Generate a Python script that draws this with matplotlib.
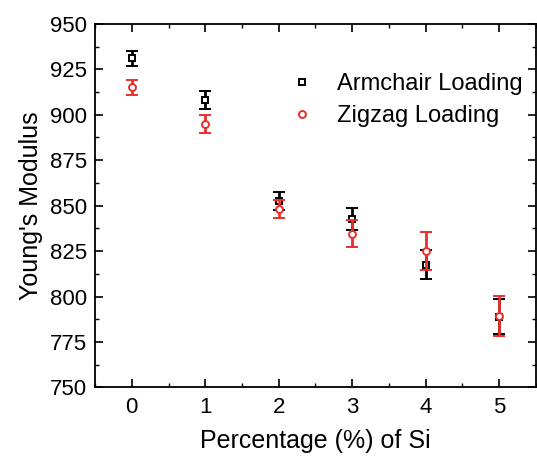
import matplotlib
matplotlib.use("Agg")
import matplotlib.pyplot as plt
from matplotlib.ticker import MultipleLocator
from matplotlib.lines import Line2D

plt.rcParams['font.family'] = ['Liberation Sans', 'DejaVu Sans']

si_pct = [0, 1, 2, 3, 4, 5]
armchair = [931, 908, 852.5, 842.5, 817.5, 789]
armchair_err = [4, 5, 5, 6, 8, 9.5]
zigzag = [915, 895, 848, 834.5, 825, 789.5]
zigzag_err = [4, 5, 5, 7.5, 10.5, 11]

RED = '#e8312f'

fig = plt.figure(figsize=(5.37, 4.59), dpi=100)
ax = fig.add_axes([0.177, 0.156, 0.821, 0.792])

ax.errorbar(si_pct, armchair, yerr=armchair_err, fmt='s', color='black',
            mfc='white', mec='black', ms=5, mew=1.4, elinewidth=2,
            capsize=4, capthick=2, zorder=3)
ax.errorbar(si_pct, zigzag, yerr=zigzag_err, fmt='o', color=RED,
            mfc='white', mec=RED, ms=5, mew=1.4, elinewidth=2,
            capsize=4, capthick=2, zorder=4)

ax.set_xlim(-0.5, 5.5)
ax.set_ylim(750, 950)
ax.xaxis.set_major_locator(MultipleLocator(1))
ax.xaxis.set_minor_locator(MultipleLocator(0.5))
ax.yaxis.set_major_locator(MultipleLocator(25))
ax.yaxis.set_minor_locator(MultipleLocator(12.5))
ax.tick_params(which='both', direction='in', top=True, right=True,
               labeltop=False, labelright=False)
ax.tick_params(which='major', length=6, width=1.2, labelsize=16)
ax.tick_params(axis='y', which='major', pad=6)
ax.tick_params(axis='x', which='major', pad=7)
ax.tick_params(which='minor', length=3, width=1.0)
for s in ax.spines.values():
    s.set_linewidth(1.3)

ax.set_xlabel('Percentage (%) of Si', fontsize=18, labelpad=8)
ax.set_ylabel("Young's Modulus", fontsize=18, labelpad=5)

handles = [
    Line2D([], [], ls='none', marker='s', ms=5, mew=1.4, mfc='white', mec='black'),
    Line2D([], [], ls='none', marker='o', ms=5, mew=1.4, mfc='white', mec=RED),
]
ax.legend(handles, ['Armchair Loading', 'Zigzag Loading'],
          loc='upper right', bbox_to_anchor=(1.008, 0.91), frameon=False,
          fontsize=17, handlelength=1.0, handletextpad=1.0, labelspacing=0.42,
          borderaxespad=0.3)

fig.savefig('out.png', dpi=100)
